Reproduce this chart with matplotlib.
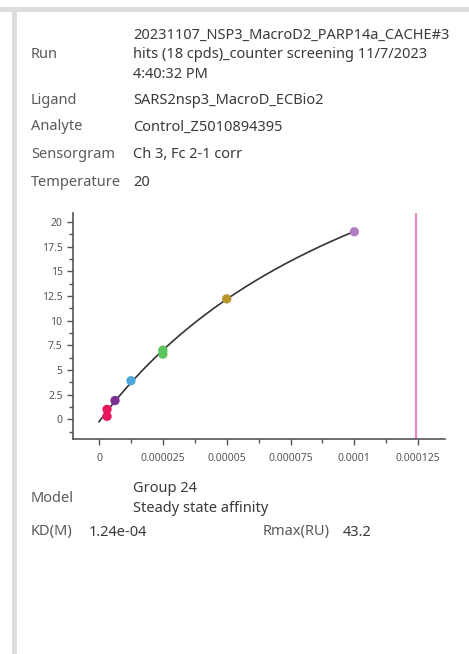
import numpy as np
import matplotlib
matplotlib.use("Agg")
import matplotlib.pyplot as plt
from matplotlib.ticker import MultipleLocator, FuncFormatter

# точки измерений (концентрация, М; ответ, RU)
conc = [3.125e-6, 3.125e-6, 6.25e-6, 12.5e-6, 25e-6, 25e-6, 50e-6, 100e-6]
resp = [1.0, 0.3, 1.9, 3.9, 7.0, 6.6, 12.2, 19.0]
colors = ["#e8175d", "#e8175d", "#7b3294", "#4ea6dc", "#5cc45c", "#5cc45c",
          "#b8962e", "#b27cc4"]

# параметры модели steady state affinity
kd = 1.24e-4
rmax = 43.2
offset = -0.25

info_labels = ["Run", "Ligand", "Analyte", "Sensorgram", "Temperature"]
info_values = ["20231107_NSP3_MacroD2_PARP14a_CACHE#3\nhits (18 cpds)_counter screening 11/7/2023\n4:40:32 PM",
               "SARS2nsp3_MacroD_ECBio2", "Control_Z5010894395",
               "Ch 3, Fc 2-1 corr", "20"]
info_y = [55, 100, 127, 155, 183]

plt.rcParams['font.family'] = ['Noto Sans', 'DejaVu Sans']

fig = plt.figure(figsize=(4.69, 6.54), dpi=100)
W, H = 469, 654


def fy(y):
    return 1 - y / H


# рамка панели
fig.add_artist(plt.Line2D([0, 1], [fy(9), fy(9)], color="#dcdcdc", lw=3.5))
fig.add_artist(plt.Line2D([14 / W, 14 / W], [0, fy(9)], color="#dcdcdc", lw=3.5))

lab_col = "#5a5a5a"
val_col = "#3a3a3a"
fs = 10.5
for lab, val, y in zip(info_labels, info_values, info_y):
    fig.text(31 / W, fy(y), lab, color=lab_col, fontsize=fs, va="center")
    if lab == "Run":
        fig.text(133 / W, fy(y), val, color=val_col, fontsize=fs, va="center",
                 linespacing=1.42)
    else:
        fig.text(133 / W, fy(y), val, color=val_col, fontsize=fs, va="center")

ax = fig.add_axes([73 / W, 1 - 439 / H, (445 - 73) / W, (439 - 213) / H])
ax.plot([kd, kd], [-2.0, 20.9], color="#ec84be", lw=1.5)

xs = np.linspace(0, 1e-4, 200)
ax.plot(xs, rmax * xs / (kd + xs) + offset, color="#333333", lw=1.2)
ax.scatter(conc, resp, c=colors, s=45, zorder=3, edgecolors="none")

ax.set_xlim(-1.02e-5, 1.355e-4)
ax.set_ylim(-2.0, 20.9)
ax.xaxis.set_major_locator(MultipleLocator(2.5e-5))
ax.xaxis.set_minor_locator(MultipleLocator(1.25e-5))
ax.yaxis.set_major_locator(MultipleLocator(2.5))
ax.yaxis.set_minor_locator(MultipleLocator(1.25))


def xfmt(v, pos):
    if abs(v) < 1e-12:
        return "0"
    return ("%.6f" % v).rstrip("0")


def yfmt(v, pos):
    return ("%g" % v)


ax.xaxis.set_major_formatter(FuncFormatter(xfmt))
ax.yaxis.set_major_formatter(FuncFormatter(yfmt))
for s in ["top", "right"]:
    ax.spines[s].set_visible(False)
for s in ["left", "bottom"]:
    ax.spines[s].set_color("#555555")
    ax.spines[s].set_linewidth(1.2)
ax.tick_params(which="both", colors="#555555", labelsize=7.5, width=1)
ax.tick_params(which="major", length=4)
ax.tick_params(which="minor", length=3)
ax.tick_params(axis="x", pad=6)

fig.text(31 / W, fy(498), "Model", color=lab_col, fontsize=fs, va="center")
fig.text(133 / W, fy(488), "Group 24", color=val_col, fontsize=fs, va="center")
fig.text(133 / W, fy(509), "Steady state affinity", color=val_col, fontsize=fs, va="center")
fig.text(31 / W, fy(532), "KD(M)", color=lab_col, fontsize=fs, va="center")
fig.text(89 / W, fy(532), "1.24e-04", color=val_col, fontsize=fs, va="center")
fig.text(263 / W, fy(532), "Rmax(RU)", color=lab_col, fontsize=fs, va="center")
fig.text(343 / W, fy(532), "43.2", color=val_col, fontsize=fs, va="center")

fig.savefig("out.png", dpi=100)
